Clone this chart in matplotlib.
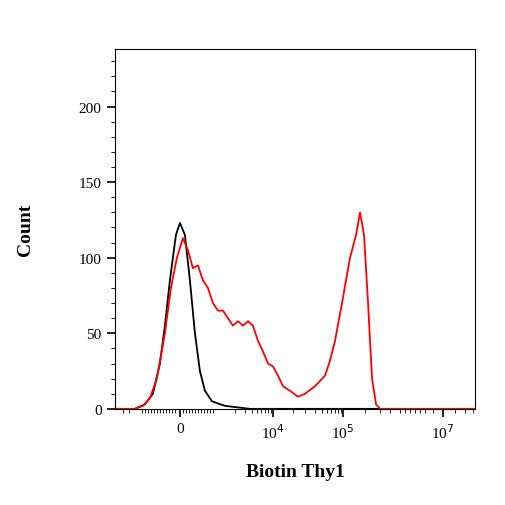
import numpy as np
import matplotlib.pyplot as plt
from matplotlib.ticker import MultipleLocator

plt.rcParams['font.family'] = ['Liberation Serif', 'DejaVu Serif']

# x in display channel units (0..360), y = count
red_x = [0, 20, 28, 35, 42, 50, 56, 62, 68, 73, 78, 83, 88, 93, 98, 103, 108, 113, 118, 123,
         128, 133, 138, 143, 148, 153, 158, 163, 168, 175, 183, 190, 200, 210, 215, 220, 227,
         235, 241, 245, 249, 253, 257, 261, 265, 360]
red_y = [0, 0, 2, 7, 20, 50, 80, 100, 113, 105, 93, 95, 85, 80, 70, 65, 65, 60, 55, 58,
         55, 58, 55, 45, 38, 30, 28, 22, 15, 12, 8, 10, 15, 22, 32, 45, 70,
         100, 115, 130, 115, 70, 20, 3, 0, 0]
black_x = [0, 20, 30, 38, 45, 50, 55, 61, 65, 70, 75, 80, 85, 90, 97, 110, 135, 360]
black_y = [0, 0, 3, 10, 30, 55, 85, 115, 123, 115, 85, 50, 25, 12, 5, 2, 0, 0]

major_pos = [65, 158, 228, 328]
major_lab = ['0', r'10$^4$', r'10$^5$', r'10$^7$']

fig = plt.figure(figsize=(5.06, 5.06), dpi=100)
ax = fig.add_axes([0.227, 0.19, 0.712, 0.711])
ax.plot(black_x, black_y, color='black', lw=1.3)
ax.plot(red_x, red_y, color='red', lw=1.3)
ax.set_xlim(0, 360)
ax.set_ylim(0, 238)
ax.set_xticks(major_pos)
ax.set_xticklabels(major_lab, fontsize=11)
minor = list(range(8, 18, 6)) + list(range(27, 62, 3)) + list(range(68, 100, 3)) + \
    [120, 130, 137, 142, 146, 150, 153, 156] + [178, 190, 200, 207, 212, 216, 220, 223, 226] + \
    [250, 265, 275, 285, 290, 295, 300, 305, 310, 318, 340, 350, 358]
ax.set_xticks(minor, minor=True)
ax.set_yticks([0, 50, 100, 150, 200])
ax.yaxis.set_minor_locator(MultipleLocator(10))
ax.tick_params(axis='both', which='major', direction='out', length=6, width=1.2, labelsize=11)
ax.tick_params(axis='both', which='minor', direction='out', length=3)
ax.set_ylabel('Count', fontsize=14, fontweight='bold', labelpad=32)
ax.set_xlabel('Biotin Thy1', fontsize=14, fontweight='bold', labelpad=16)
fig.savefig('out.png', dpi=100)
